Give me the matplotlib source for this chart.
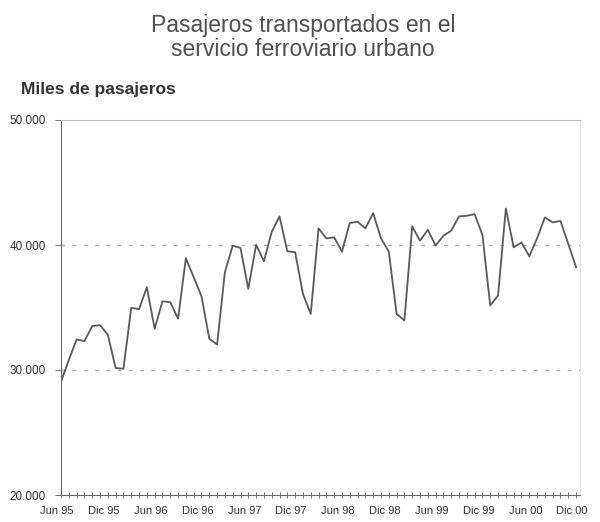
import matplotlib
matplotlib.use("Agg")
import matplotlib.pyplot as plt
from matplotlib.ticker import FuncFormatter
from matplotlib.transforms import ScaledTranslation

plt.rcParams['font.family'] = ['Liberation Sans', 'DejaVu Sans']

months = ["Ene", "Feb", "Mar", "Abr", "May", "Jun", "Jul", "Ago", "Sep", "Oct", "Nov", "Dic"]
# monthly series, June 1995 .. December 2000
pasajeros = [
    29070, 30800, 32440, 32310, 33510, 33590, 32820,           # Jun95-Dic95
    30160, 30100, 34970, 34870, 36620, 33300, 35500, 35420, 34100, 38940, 37420, 35900,  # 1996
    32500, 32040, 37820, 39950, 39760, 36490, 40020, 38700, 41050, 42290, 39500, 39420,  # 1997
    36090, 34490, 41330, 40530, 40610, 39470, 41760, 41860, 41330, 42550, 40530, 39470,  # 1998
    34490, 33960, 41490, 40340, 41220, 39950, 40740, 41140, 42290, 42340, 42470, 40800,  # 1999
    35160, 35960, 42930, 39810, 40210, 39100, 40530, 42210, 41810, 41920, 40080, 38220,  # 2000
]
start_month = 5  # June
start_year = 1995
labels_all = []
for i in range(len(pasajeros)):
    m = (start_month + i) % 12
    y = start_year + (start_month + i) // 12
    labels_all.append(f"{months[m]} {y % 100:02d}")

y_ticks = [20000, 30000, 40000, 50000]
title = "Pasajeros transportados en el\nservicio ferroviario urbano"
ylabel = "Miles de pasajeros"

fig = plt.figure(figsize=(6.0, 5.22), dpi=100)
ax = fig.add_axes([61/600, 27/522, (580-61)/600, (495-120)/522])

x = list(range(len(pasajeros)))
ax.plot(x, pasajeros, color="#5a5a5a", linewidth=1.3)

ax.set_xlim(0, len(pasajeros) - 1 + 0.5)
ax.set_ylim(20000, 50000)

ax.set_yticks(y_ticks)
ax.yaxis.set_major_formatter(FuncFormatter(lambda v, p: f"{int(v):,}".replace(",", ".")))
major_idx = [i for i, l in enumerate(labels_all) if l.startswith("Jun") or l.startswith("Dic")]
ax.set_xticks(major_idx)
ax.set_xticklabels([labels_all[i] for i in major_idx])
ax.set_xticks(x, minor=True)

ax.tick_params(axis='x', which='both', direction='inout', length=4, width=0.7, color="#777777",
               labelsize=8, labelcolor="#333333", pad=6)
ax.tick_params(axis='y', which='major', direction='out', length=4, width=0.7, color="#777777",
               labelsize=8.5, labelcolor="#333333", pad=7)
shift = ScaledTranslation(-4/100, 0, fig.dpi_scale_trans)
for lbl in ax.get_xticklabels():
    lbl.set_transform(lbl.get_transform() + shift)

for yv in [30000, 40000]:
    ax.axhline(yv, color="#aaaaaa", linestyle=(0, (3, 6)), linewidth=0.9, zorder=0)

ax.spines['left'].set_color("#666666")
ax.spines['bottom'].set_color("#666666")
ax.spines['top'].set_color("#bbbbbb")
ax.spines['right'].set_color("#e6e6e6")
for s in ax.spines.values():
    s.set_linewidth(0.8)

fig.text(0.505, 1 - 14/522, title, ha='center', va='top', fontsize=16.5, color="#505050", linespacing=1.08)
fig.text(21/600, 1 - 94/522, ylabel, ha='left', va='baseline', fontsize=12.5, fontweight='bold', color="#333333")

fig.savefig("out.png", dpi=100)
